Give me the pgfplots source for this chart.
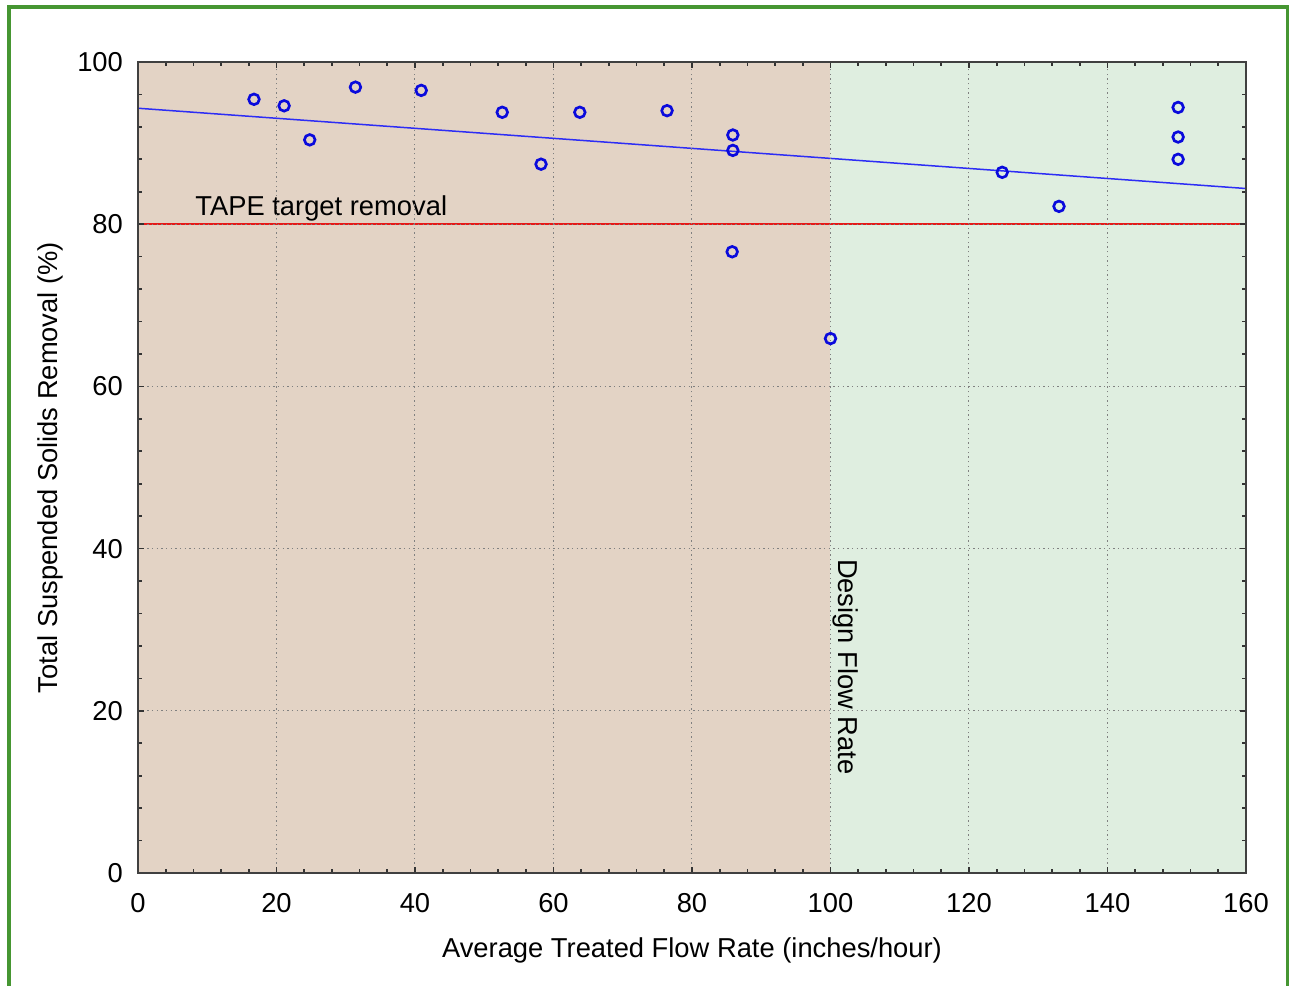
\documentclass[border=0pt]{standalone}
\usepackage{pgfplots}
\pgfplotsset{compat=1.18}
\usepackage{fontspec}
\setmainfont{Liberation Sans}
\definecolor{regbrown}{RGB}{227,211,197}
\definecolor{reggreen}{RGB}{223,238,224}
\definecolor{ptblue}{RGB}{10,10,220}
\definecolor{lnblue}{RGB}{45,45,245}
\definecolor{lnred}{RGB}{230,25,25}
\definecolor{frame}{RGB}{70,150,50}
\begin{document}
\begin{tikzpicture}[font=\fontsize{8.2}{9.8}\selectfont]
\begin{axis}[
  scale only axis,
  width=332.4pt, height=243.3pt,
  xmin=0, xmax=160, ymin=0, ymax=100,
  xtick={0,20,...,160}, ytick={0,20,...,100},
  minor tick num=4,
  major tick length=1.8pt, minor tick length=1.2pt,
  tick style={black!80, line width=0.5pt},
  axis line style={black!75, line width=0.6pt},
  grid=major,
  major grid style={densely dotted, black!50, line width=0.3pt},
  axis on top,
  clip=false,
  /pgf/number format/assume math mode=true,
  xticklabel style={yshift=-2.5pt},
  yticklabel style={xshift=-1pt},
  xlabel={Average Treated Flow Rate (inches/hour)},
  ylabel={Total Suspended Solids Removal (\%)},
  xlabel style={at={(axis description cs:0.5,-0.1036)}, anchor=base},
  ylabel style={at={(axis description cs:-0.0722,0.5)}, anchor=base, rotate=0},
]
\addplot[draw=none, fill=regbrown] coordinates {(0,0) (100,0) (100,100) (0,100)} -- cycle;
\addplot[draw=none, fill=reggreen] coordinates {(100,0) (160,0) (160,100) (100,100)} -- cycle;
\addplot[lnred, line width=0.45pt] coordinates {(0,80) (160,80)};
\addplot[lnblue, line width=0.45pt] coordinates {(0,94.3) (160,84.4)};
\addplot[only marks, mark=o, mark size=1.6pt, ptblue, mark options={line width=0.8pt}] coordinates {
(16.75,95.4)
(21.1,94.6)
(24.8,90.4)
(31.4,96.9)
(40.9,96.5)
(52.6,93.8)
(58.2,87.4)
(63.8,93.8)
(76.4,94.0)
(85.9,91.0)
(85.9,89.1)
(85.8,76.6)
(100.0,65.9)
(124.8,86.4)
(133.0,82.2)
(150.2,94.4)
(150.2,90.75)
(150.2,88.0)
};
\node[anchor=base west, inner sep=0pt] at (axis cs:8.2,81.1) {TAPE target removal};
\node[anchor=base west, inner sep=0pt, rotate=-90] at (axis cs:101.2,38.8) {Design Flow Rate};
\draw[frame, line width=1.2pt] (axis cs:-18.56,-14) -- (axis cs:-18.56,106.78) -- (axis cs:166.06,106.78) -- (axis cs:166.06,-14);
\coordinate (BL) at (axis cs:-19.928,-13.81);
\coordinate (TR) at (axis cs:166.21,107.645);
\end{axis}
\pgfresetboundingbox
\path[use as bounding box] (BL) rectangle (TR);
\end{tikzpicture}
\end{document}
